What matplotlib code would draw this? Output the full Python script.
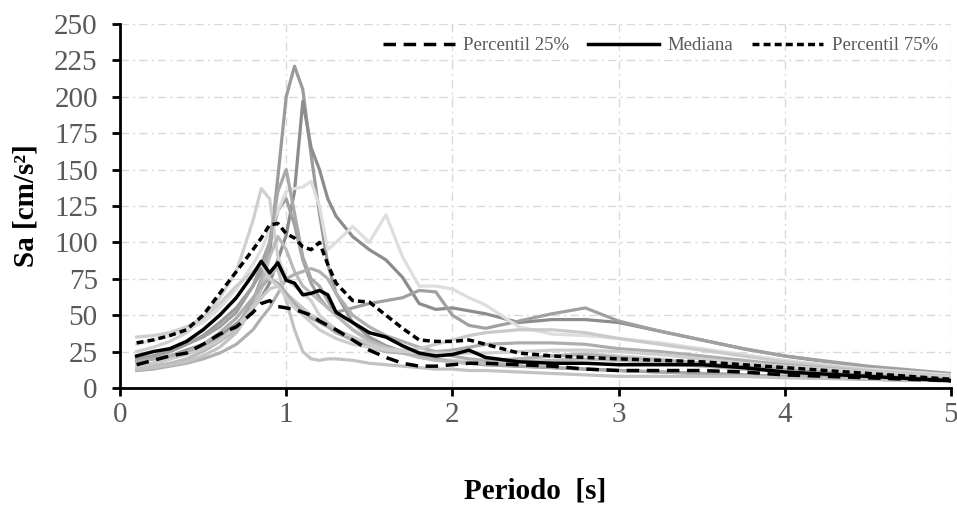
import matplotlib
matplotlib.use("Agg")
import matplotlib.pyplot as plt
import numpy as np

plt.rcParams['font.family'] = ['Liberation Serif', 'DejaVu Serif']

# periods [s]
periodo = [0.1, 0.2, 0.3, 0.4, 0.5, 0.6, 0.7, 0.8, 0.85, 0.9, 0.95, 1.0, 1.05, 1.1, 1.15,
           1.2, 1.25, 1.3, 1.4, 1.5, 1.6, 1.7, 1.8, 1.9, 2.0, 2.1, 2.2, 2.4, 2.6, 2.8,
           3.0, 3.25, 3.5, 3.75, 4.0, 4.5, 5.0]

# individual spectra (gray lines)
reg_1 = [20, 22, 25, 30, 36, 45, 55, 70, 80, 92, 145, 200, 221, 205, 160, 120, 85, 65, 45, 35,
         29, 25, 22, 20, 18, 17, 16, 15, 14, 13, 12, 11, 10, 9, 8, 6, 5]
reg_2 = [18, 20, 22, 26, 30, 36, 44, 55, 62, 72, 88, 105, 135, 197, 165, 150, 130, 118, 104, 95,
         88, 76, 58, 54, 55, 53, 51, 45, 47, 47, 45, 39, 33, 27, 22, 14, 9]
reg_3 = [20, 22, 25, 30, 35, 42, 52, 70, 85, 100, 122, 130, 112, 88, 72, 62, 55, 52, 55, 58,
         60, 62, 67, 66, 50, 43, 41, 46, 51, 55, 46, 39, 33, 27, 22, 15, 10]
reg_4 = [25, 28, 32, 38, 48, 62, 80, 115, 137, 130, 90, 75, 70, 65, 60, 50, 45, 40, 35, 30,
         27, 25, 22, 20, 19, 18, 18, 20, 22, 24, 22, 20, 17, 14, 12, 9, 7]
reg_5 = [30, 33, 36, 40, 45, 55, 68, 85, 95, 108, 122, 135, 137, 138, 142, 125, 95, 100, 111, 100,
         119, 90, 70, 70, 68, 62, 57, 42, 37, 36, 34, 31, 27, 23, 19, 13, 9]
reg_6 = [15, 17, 20, 24, 28, 34, 42, 60, 75, 100, 135, 150, 120, 90, 75, 70, 60, 50, 40, 33,
         28, 25, 22, 20, 18, 17, 16, 15, 14, 13, 12, 11, 10, 9, 8, 6, 5]
reg_7 = [14, 15, 17, 20, 25, 32, 40, 55, 70, 90, 104, 95, 80, 70, 65, 60, 55, 50, 40, 32,
         28, 24, 21, 19, 18, 17, 17, 18, 19, 20, 19, 17, 15, 13, 11, 8, 6]
reg_8 = [12, 13, 15, 17, 20, 24, 30, 40, 48, 55, 65, 75, 78, 80, 82, 80, 75, 65, 50, 42,
         36, 32, 28, 25, 22, 20, 19, 20, 22, 23, 21, 19, 17, 15, 13, 9, 7]
reg_9 = [13, 14, 16, 18, 22, 28, 38, 55, 68, 78, 82, 60, 40, 25, 20, 19, 20, 20, 19, 17,
         16, 15, 14, 13, 13, 12, 12, 11, 10, 9, 8, 8, 8, 8, 7, 6, 5]
reg_10 = [15, 17, 20, 23, 27, 33, 42, 55, 62, 68, 70, 65, 60, 55, 50, 47, 44, 40, 35, 30,
          27, 26, 27, 30, 33, 36, 38, 40, 40, 38, 34, 30, 26, 22, 18, 12, 8]
reg_11 = [18, 20, 22, 25, 30, 38, 48, 62, 70, 75, 72, 65, 58, 52, 48, 45, 42, 38, 33, 28,
          25, 24, 24, 25, 26, 28, 30, 31, 31, 30, 27, 25, 22, 19, 16, 11, 8]
reg_12 = [35, 36, 38, 42, 48, 58, 70, 80, 85, 75, 70, 62, 55, 50, 45, 40, 37, 34, 30, 28,
          26, 25, 24, 24, 24, 24, 24, 25, 26, 26, 25, 23, 20, 17, 15, 11, 8]

registros = [reg_1, reg_2, reg_3, reg_4, reg_5, reg_6, reg_7, reg_8, reg_9, reg_10, reg_11, reg_12]
grises = ['#9a9a9a', '#8c8c8c', '#a0a0a0', '#d0d0d0', '#dedede', '#a8a8a8',
          '#bababa', '#b0b0b0', '#c2c2c2', '#cacaca', '#adadad', '#cecece']

# statistics
p25 = [16, 19, 22, 24, 30, 37, 42, 52, 58, 60, 56, 55, 54, 52, 50, 46, 43, 40, 33, 26,
       21, 17, 15, 15, 16, 17, 17, 16, 15, 13, 12, 12, 12, 11, 9, 7, 5]
mediana = [22, 25, 27, 32, 40, 50, 62, 78, 87, 79, 86, 74, 72, 64, 65, 67, 64, 52, 45, 38,
           35, 29, 24, 22, 23, 26, 21, 18, 17, 17, 16, 16, 16, 14, 11, 8, 5]
p75 = [31, 33, 36, 40, 50, 65, 80, 95, 103, 112, 113, 106, 103, 97, 95, 100, 85, 72, 60, 59,
       50, 41, 33, 32, 32, 33, 30, 24, 22, 21, 20, 19, 18, 16, 14, 10, 6]

fig = plt.figure(figsize=(9.57, 5.08), dpi=100)
ax = fig.add_axes([0.1254, 0.2362, 0.8683, 0.7166])

x = np.array(periodo)
for reg, c in zip(registros, grises):
    ax.plot(x, reg, color=c, lw=2.3, zorder=2, solid_joinstyle='round')

ax.plot(x, p25, color='black', lw=2.5, ls=(0, (3.6, 2.2)), zorder=4, label='Percentil 25%')
ax.plot(x, mediana, color='black', lw=2.5, ls='-', zorder=4, label='Mediana')
ax.plot(x, p75, color='black', lw=2.5, ls=(0, (2.0, 1.2)), zorder=4, label='Percentil 75%')

ax.set_xlim(0, 5)
ax.set_ylim(0, 250)
ax.set_xticks(np.arange(0, 6, 1))
ax.set_yticks(np.arange(0, 251, 25))
ax.grid(True, color='#d9d9d9', lw=1.0, ls=(0, (6, 3, 1.5, 3)), zorder=0)
ax.set_axisbelow(True)

for s in ['top', 'right']:
    ax.spines[s].set_visible(False)
for s in ['left', 'bottom']:
    ax.spines[s].set_linewidth(2)
    ax.spines[s].set_color('black')
ax.tick_params(axis='both', direction='out', length=6, width=2, colors='black',
               labelcolor='#595959', labelsize=21)
ax.tick_params(axis='y', pad=10)
ax.tick_params(axis='x', pad=4)

ax.set_ylabel('Sa [cm/s²]', fontsize=21, fontweight='bold')
ax.yaxis.set_label_coords(-0.097, 0.5)
ax.set_xlabel('Periodo  [s]', fontsize=21, fontweight='bold')
ax.xaxis.set_label_coords(0.5, -0.245)

leg = ax.legend(loc='upper right', ncol=3, frameon=False, fontsize=13.5, handlelength=3.8,
                columnspacing=1.0, handletextpad=0.45, bbox_to_anchor=(1.0, 1.0),
                borderaxespad=0.3)
for t in leg.get_texts():
    t.set_color('#595959')

fig.savefig('out.png', dpi=100)
